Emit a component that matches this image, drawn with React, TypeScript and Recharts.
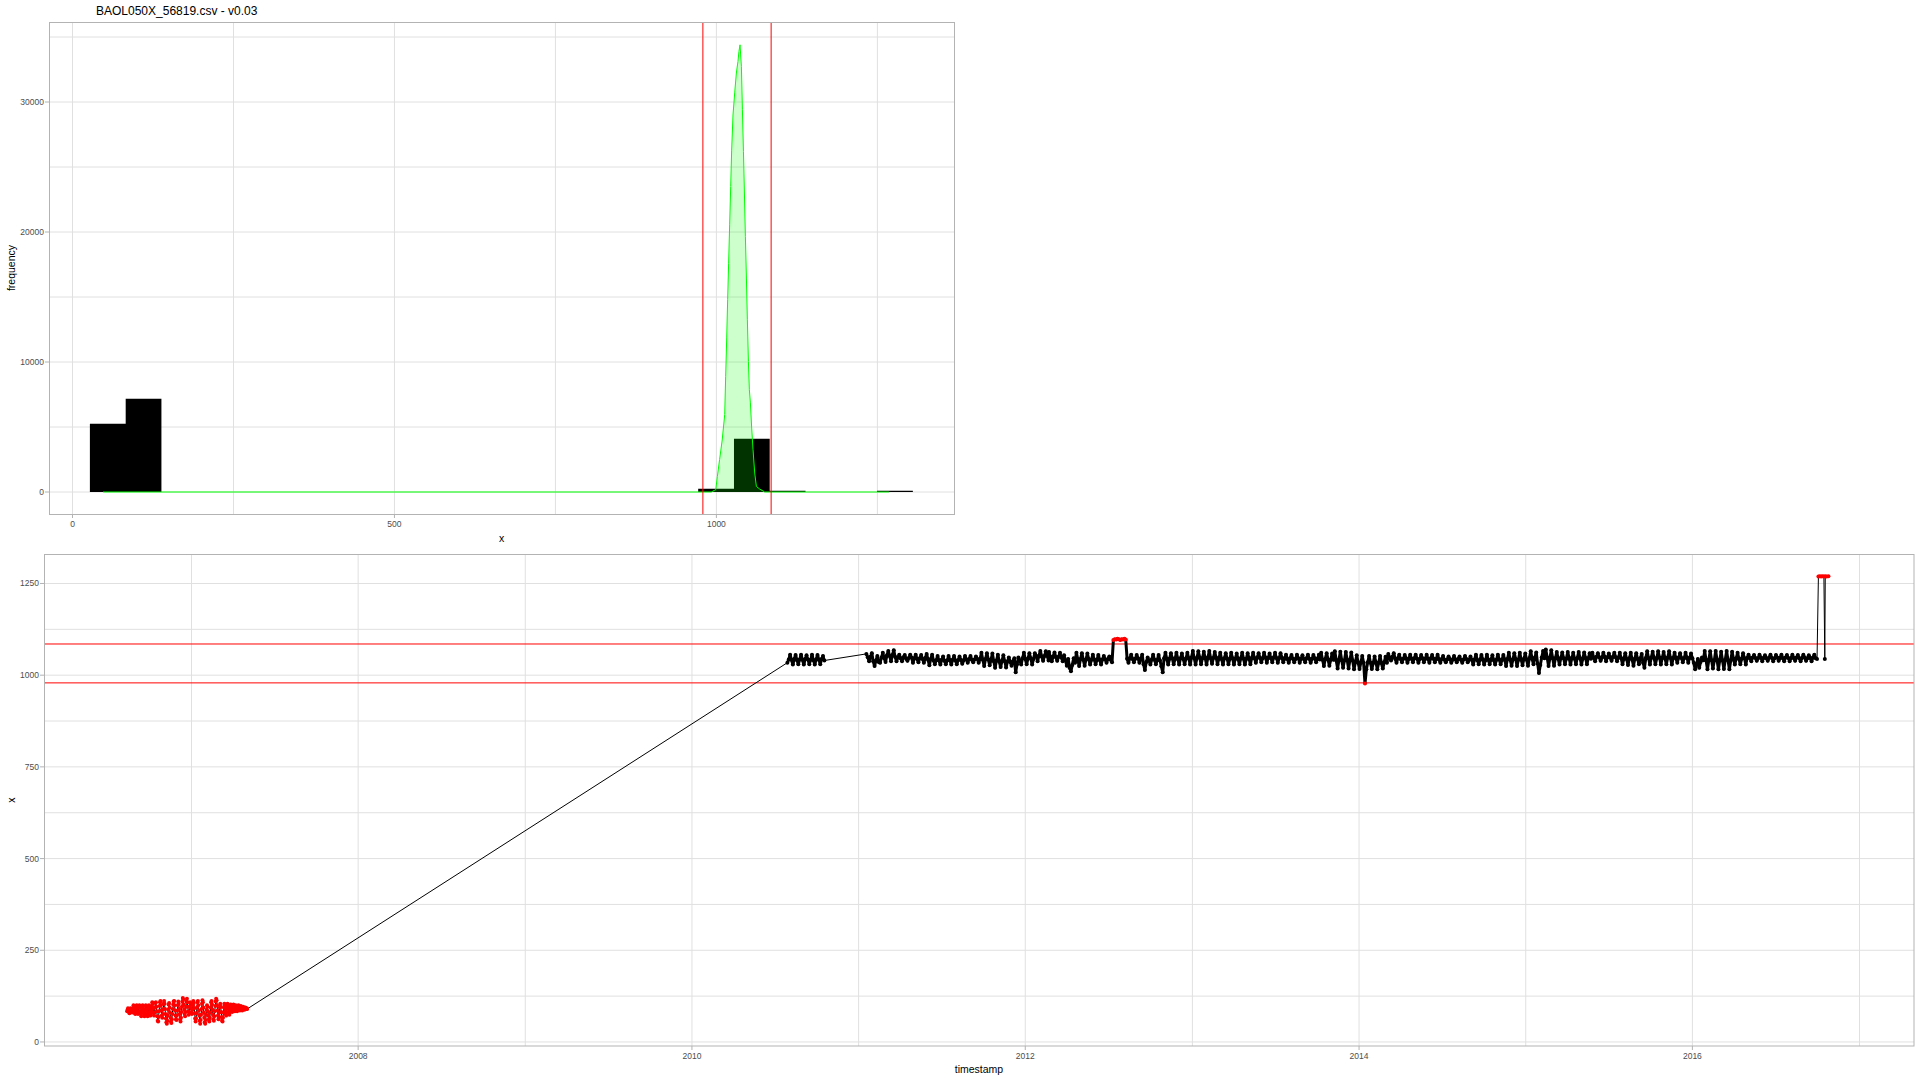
import {
  ComposedChart,
  Area,
  Line,
  XAxis,
  YAxis,
  CartesianGrid,
  ReferenceLine,
} from "recharts";

// ---- top panel: histogram of x with a scaled density ----
const BIN_EDGES = [
  27.0, 82.6, 138.1, 193.7, 249.3, 304.9, 360.4, 416.0, 471.6, 527.1, 582.7, 638.3,
  693.8, 749.4, 805.0, 860.6, 916.1, 971.7, 1027.3, 1082.8, 1138.4, 1194.0, 1249.5, 1305.1,
];
const BIN_COUNTS = [
  5254, 7177, 0, 0, 0, 0, 0, 0, 0, 0, 0, 0, 0, 0, 0, 0, 0, 250, 4100, 100, 0, 0, 100, 0,
];

const DENSITY_X = [
  47.5, 992, 999, 1001.5, 1005, 1009, 1012.9, 1014.4, 1016, 1017.5, 1019, 1020.6, 1022.2,
  1023.7, 1025.8, 1028.4, 1031, 1033.5, 1035, 1036.7, 1038.8, 1040.4, 1042, 1043.5, 1045,
  1046.6, 1048.1, 1049.7, 1051.2, 1052.8, 1054.8, 1056.9, 1059.5, 1062.1, 1067.2, 1072.4,
  1075, 1268,
];
const DENSITY_Y = [
  0, 0, 180, 1200, 2500, 4000, 5950, 8900, 11850, 14800, 17600, 20550, 23500, 26300, 29000,
  30700, 32230, 33120, 33890, 34400, 32740, 29400, 26200, 23000, 19660, 16460, 13250, 10050,
  7870, 6850, 4920, 3250, 1460, 430, 230, 80, 0, 0,
];

const LOWER_LIMIT = 979;
const UPPER_LIMIT = 1085;

// ---- bottom panel: x over time ----
const RED_2006_START = "2006-08-13"; // daily
const RED_2006 = [
  84, 88, 92, 90, 84, 78, 80, 86, 92, 90, 84, 80,
  84, 92, 100, 98, 88, 78, 76, 86, 96, 100, 92, 82, 76, 84, 94, 100, 94, 84,
  76, 70, 80, 92, 100, 96, 86, 76, 70, 78, 90, 100, 98, 86, 74, 70, 80, 92, 100, 94, 82, 72, 74, 86,
  98, 108, 104, 92, 80, 72, 80, 94, 106, 108, 96, 84,
  70, 58, 56, 68, 84, 98,
  108, 112, 100, 86, 72, 66, 76, 90, 104, 112, 104, 90,
  76, 64, 54, 50, 58, 72, 88, 102, 106, 94, 80, 66, 56, 52, 62, 76, 90, 102,
  110, 112, 100, 86, 72, 62, 60, 72, 86, 100, 110, 104,
  90, 76, 62, 56, 66, 82,
  96, 110, 120, 116, 102, 88, 76, 70, 82, 96, 110, 118,
  108, 96, 84, 74, 82, 96, 108, 104, 92, 80, 76, 88,
  100, 112, 106, 92, 78, 64, 56, 64, 78, 94, 108, 112,
  100, 86, 72, 58, 50, 60, 74, 90, 104, 114, 108, 94,
  80, 66, 54, 50, 60, 74, 88, 100, 96, 84, 72, 62,
  56, 66, 80, 94, 108, 112, 102, 88, 74, 62, 58, 70,
  84, 98, 110, 118, 114, 100, 86, 72, 62, 66, 80, 94,
  104, 96, 82, 68, 58, 56, 66, 80, 94, 104, 100, 88,
  76, 72, 82, 94, 104, 100, 90, 80, 74, 82, 94, 102,
  96, 86, 82, 90, 100, 102, 94, 86, 84, 92, 100, 98, 90, 84, 88, 96, 100, 94,
  88, 86, 92, 98, 96, 90, 86, 90, 96, 94, 90, 88, 92, 94, 92, 90, 92, 90,
];

const CLUSTER_2010_START = "2010-07-29"; // every 3 days
const CLUSTER_2010 = [
  1034, 1043, 1056, 1042, 1029, 1044, 1055, 1041, 1030, 1043, 1056, 1042, 1029, 1044,
  1054, 1043, 1030, 1042, 1056, 1041, 1029, 1043, 1055, 1042, 1030, 1044, 1052, 1040,
];

const BAND_2011_START = "2011-01-18"; // every 3 days
const BAND_2011 = [
  1058, 1049, 1038, 1050, 1060, 1038, 1025, 1040, 1052, 1036, 1034, 1048, 1061, 1046, 1036,
  1054, 1066, 1052, 1038, 1055, 1068, 1050, 1038, 1048, 1056, 1046, 1038, 1049, 1055, 1045,
  1039, 1047, 1056, 1048, 1034, 1046, 1056, 1044, 1035, 1046, 1055, 1044, 1034, 1047, 1058,
  1042, 1027, 1044, 1056, 1040, 1030, 1041, 1052, 1040, 1029, 1042, 1051, 1039, 1030, 1040,
  1052, 1041, 1029, 1042, 1052, 1040, 1030, 1041, 1051, 1042, 1031, 1040, 1052, 1043, 1034,
  1044, 1052, 1042, 1035, 1043, 1051, 1044, 1034, 1044, 1061, 1042, 1025, 1044, 1060, 1043,
  1027, 1042, 1059, 1038, 1020, 1040, 1056, 1037, 1022, 1039, 1054, 1038, 1021, 1037, 1048,
  1036, 1026, 1038, 1046, 1008, 1030, 1048, 1040, 1029, 1046, 1061, 1044, 1030, 1045, 1060,
  1046, 1029, 1044, 1060, 1052, 1038, 1053, 1066, 1051, 1039, 1052, 1065, 1053, 1040,
];

const BAND_2012_START = "2012-02-22"; // every 3 days
const BAND_2012 = [
  1063, 1050, 1038, 1051, 1062, 1049, 1039, 1050, 1061, 1048, 1038, 1054, 1040, 1026, 1044,
  1020, 1011, 1028, 1046, 1034, 1061, 1043, 1025, 1044, 1060, 1042, 1026, 1043, 1059, 1044,
  1029, 1042, 1056, 1043, 1030, 1041, 1055, 1042, 1029, 1043, 1052, 1043, 1034, 1044, 1051,
  1042, 1035, 1096, 1098, 1097, 1099, 1098, 1096, 1098, 1097, 1099, 1097, 1045, 1034, 1046,
  1056, 1044, 1035, 1045, 1055, 1046, 1034, 1044, 1056, 1030, 1014, 1036, 1048, 1040, 1029,
  1043, 1056, 1042, 1030, 1041, 1055, 1040, 1024, 1008, 1046, 1061, 1044, 1029, 1045, 1060,
  1046, 1030, 1044, 1061, 1045, 1029, 1046, 1059, 1044, 1030, 1045, 1061, 1046, 1029, 1048,
  1066, 1046, 1029, 1047, 1065, 1048, 1030, 1046, 1064, 1047, 1029, 1048, 1066, 1046, 1031,
  1047, 1063, 1048, 1030, 1045, 1061, 1044, 1029, 1046, 1060, 1045, 1030, 1044, 1061, 1046,
  1029, 1045, 1059, 1044, 1030, 1046, 1061, 1045, 1029, 1044, 1060, 1046, 1030, 1047, 1061,
  1046, 1034, 1048, 1060, 1047, 1035, 1046, 1061, 1048, 1034, 1047, 1059, 1046, 1035, 1048,
  1061, 1047, 1034, 1046, 1060, 1048, 1035, 1045, 1056, 1044, 1034, 1046, 1055, 1045, 1035,
  1044, 1056, 1046, 1034, 1045, 1054, 1044, 1035, 1046, 1056, 1045, 1034, 1044, 1055, 1046,
  1035, 1045, 1056,
];

const BAND_2013_START = "2013-10-07"; // every 3 days
const BAND_2013 = [
  1043, 1061, 1042, 1025, 1044, 1060, 1043, 1026, 1042, 1059, 1042, 1065, 1040, 1018, 1042,
  1064, 1041, 1020, 1040, 1063, 1042, 1018, 1041, 1062, 1040, 1016, 1036, 1054, 1034, 1017,
  1035, 1052, 1034, 977, 1016, 1035, 1052, 1034, 1017, 1033, 1051, 1035, 1016, 1034, 1052,
  1033, 1018, 1035, 1050, 1034, 1058, 1048, 1040, 1050, 1060, 1045, 1034, 1046, 1056, 1044,
  1035, 1045, 1055, 1046, 1034, 1044, 1056, 1045, 1035, 1046, 1056, 1045, 1034, 1044, 1055,
  1046, 1035, 1045, 1056, 1044, 1034, 1046, 1055, 1045, 1035, 1044, 1056, 1043, 1034, 1044,
  1052, 1042, 1035, 1043, 1051, 1044, 1034, 1042, 1052, 1043, 1035, 1044, 1051, 1042, 1034,
  1043, 1052, 1044, 1035, 1042, 1051, 1042, 1029, 1043, 1056, 1041, 1030, 1042, 1055, 1043,
  1029, 1041, 1056, 1042, 1030, 1043, 1054, 1041, 1029, 1042, 1056, 1043, 1030, 1041, 1055,
  1043, 1025, 1044, 1061, 1042, 1026, 1043, 1060, 1044, 1025, 1042, 1061, 1043, 1027, 1044,
  1059, 1042, 1026, 1046, 1065, 1044, 1030, 1048, 1062, 1032, 1006, 1028, 1048, 1066, 1046,
  1070, 1048, 1025, 1047, 1068, 1046, 1026, 1046, 1063, 1045, 1029, 1047, 1062, 1046, 1030,
  1045, 1063, 1047, 1029, 1046, 1061, 1045, 1030, 1047, 1063, 1046, 1029, 1045, 1062, 1047,
  1030, 1046, 1060, 1045,
];

const BAND_2015_START = "2015-05-24"; // every 3 days
const BAND_2015 = [
  1049, 1061, 1048, 1038, 1050, 1060, 1049, 1039, 1048, 1061, 1050, 1038, 1049, 1059, 1048,
  1039, 1050, 1061, 1049, 1038, 1048, 1061, 1046, 1030, 1045, 1060, 1044, 1028, 1046, 1061,
  1043, 1026, 1045, 1060, 1044, 1030, 1046, 1058, 1034, 1020, 1047, 1065, 1046, 1029, 1048,
  1064, 1047, 1030, 1046, 1065, 1048, 1029, 1047, 1063, 1046, 1030, 1048, 1065, 1047, 1029,
  1047, 1061, 1046, 1034, 1048, 1060, 1047, 1035, 1046, 1061, 1048, 1034, 1047, 1059, 1046,
  1034, 1016, 1030, 1044, 1020, 1036, 1048, 1041, 1066, 1040, 1016, 1042, 1065, 1041, 1018,
  1040, 1066, 1042, 1016, 1041, 1064, 1040, 1017, 1042, 1066, 1041, 1016, 1040, 1064, 1045,
  1029, 1046, 1061, 1044, 1030, 1045, 1060, 1046, 1029, 1047, 1056, 1046, 1038, 1048, 1055,
  1047, 1039, 1046, 1056, 1048, 1038, 1047, 1054, 1046, 1039, 1048, 1056, 1047, 1038, 1046,
  1055, 1048, 1039, 1047, 1056, 1046, 1038, 1048, 1055, 1047, 1038, 1046, 1056, 1047, 1039,
  1048, 1055, 1046, 1038, 1047, 1056, 1048, 1039, 1046, 1054, 1047, 1038, 1048, 1056, 1046,
  1044,
];

const SPIKE_2016_DATES = [
  "2016-10-03", "2016-10-06", "2016-10-09", "2016-10-12", "2016-10-15", "2016-10-17",
  "2016-10-18", "2016-10-21", "2016-10-25",
];
const SPIKE_2016_VALUES = [1269, 1270, 1269, 1270, 1269, 1044, 1270, 1269, 1270];

const YEAR_TICKS = [2008, 2010, 2012, 2014, 2016];
const YEAR_GRID = [2007, 2008, 2009, 2010, 2011, 2012, 2013, 2014, 2015, 2016, 2017];

const FONT = "'Liberation Sans', Arial, Helvetica, sans-serif";
const GRID = "#e0e0e0";
const BORDER = "#b3b3b3";
const TICK_TEXT = { fill: "#4d4d4d", fontSize: 8.5, fontFamily: FONT };

const DAY = 86400000;
const seq = (start: string, stepDays: number, values: number[]) => {
  const t0 = Date.parse(start);
  return values.map((v, i) => ({ t: t0 + i * stepDays * DAY, v: v as number | null }));
};
const yearMs = (y: number) => Date.UTC(y, 0, 1);

const histData = BIN_EDGES.map((x, i) => ({ x, count: BIN_COUNTS[i] }));
const densityData = DENSITY_X.map((x, i) => ({ x, density: DENSITY_Y[i] }));

const redPart = seq(RED_2006_START, 1, RED_2006);
const clusterPart = seq(CLUSTER_2010_START, 3, CLUSTER_2010);
const bandPart = [
  ...seq(BAND_2011_START, 3, BAND_2011),
  ...seq(BAND_2012_START, 3, BAND_2012),
  ...seq(BAND_2013_START, 3, BAND_2013),
  ...seq(BAND_2015_START, 3, BAND_2015),
];
const spikePart = SPIKE_2016_DATES.map((d, i) => ({
  t: Date.parse(d),
  v: SPIKE_2016_VALUES[i] as number | null,
}));

// all readings in time order (line + points)
const seriesData = [...redPart, ...clusterPart, ...bandPart, ...spikePart];
// the dense stretches, drawn heavier so they read as one solid ribbon like the original
const denseData = [...clusterPart, { t: Date.parse("2010-12-01"), v: null }, ...bandPart];

const renderDot = (props: any) => {
  const { cx, cy, payload, index } = props;
  if (cx == null || cy == null || payload.v == null) return <g key={`n${index}`} />;
  const out = payload.v > UPPER_LIMIT || payload.v < LOWER_LIMIT;
  return (
    <circle key={`d${index}`} cx={cx} cy={cy} r={2} fill={out ? "#ff0000" : "#000000"} stroke="none" />
  );
};

export default function App() {
  return (
    <div
      style={{
        position: "absolute",
        left: 0,
        top: 0,
        width: 1920,
        height: 1080,
        background: "#ffffff",
        fontFamily: FONT,
      }}
    >
      <div style={{ position: "absolute", left: 0, top: 0 }}>
        <ComposedChart width={960} height={545} margin={{ top: 22, right: 6, bottom: 0, left: 0 }}>
          <CartesianGrid
            stroke={GRID}
            strokeWidth={1}
            horizontalValues={[0, 5000, 10000, 15000, 20000, 25000, 30000, 35000]}
            verticalValues={[0, 250, 500, 750, 1000, 1250]}
          />
          <XAxis
            type="number"
            dataKey="x"
            domain={[-36.5, 1369]}
            allowDataOverflow
            ticks={[0, 500, 1000]}
            interval={0}
            height={31}
            axisLine={false}
            tickSize={4}
            tickMargin={3}
            tickLine={{ stroke: BORDER }}
            tick={TICK_TEXT}
          />
          <YAxis
            type="number"
            domain={[-1692, 36154]}
            allowDataOverflow
            ticks={[0, 10000, 20000, 30000]}
            interval={0}
            width={49}
            axisLine={false}
            tickSize={4}
            tickMargin={1}
            tickLine={{ stroke: BORDER }}
            tick={TICK_TEXT}
          />
          <Area
            data={histData}
            dataKey="count"
            type="stepAfter"
            baseValue={0}
            fill="#000000"
            fillOpacity={1}
            stroke="none"
            isAnimationActive={false}
          />
          <Area
            data={densityData}
            dataKey="density"
            type="linear"
            baseValue={0}
            fill="#00ff00"
            fillOpacity={0.2}
            stroke="#00ff00"
            strokeWidth={1}
            isAnimationActive={false}
          />
          <ReferenceLine x={LOWER_LIMIT} stroke="#ff0000" strokeWidth={1} />
          <ReferenceLine x={UPPER_LIMIT} stroke="#ff0000" strokeWidth={1} />
        </ComposedChart>
      </div>

      <div style={{ position: "absolute", left: 0, top: 540 }}>
        <ComposedChart
          width={1920}
          height={540}
          data={seriesData}
          margin={{ top: 14.5, right: 6, bottom: 0, left: 0 }}
        >
          <CartesianGrid
            stroke={GRID}
            strokeWidth={1}
            horizontalValues={[0, 125, 250, 375, 500, 625, 750, 875, 1000, 1125, 1250]}
            verticalValues={YEAR_GRID.map(yearMs)}
          />
          <XAxis
            type="number"
            dataKey="t"
            domain={[Date.UTC(2006, 1, 12), Date.UTC(2017, 3, 30, 8)]}
            allowDataOverflow
            ticks={YEAR_TICKS.map(yearMs)}
            interval={0}
            tickFormatter={(t: number) => String(new Date(t).getUTCFullYear())}
            height={34}
            axisLine={false}
            tickSize={4}
            tickMargin={3}
            tickLine={{ stroke: BORDER }}
            tick={TICK_TEXT}
          />
          <YAxis
            type="number"
            domain={[-11, 1329]}
            allowDataOverflow
            ticks={[0, 250, 500, 750, 1000, 1250]}
            interval={0}
            width={44}
            axisLine={false}
            tickSize={4}
            tickMargin={1}
            tickLine={{ stroke: BORDER }}
            tick={TICK_TEXT}
          />
          <ReferenceLine y={UPPER_LIMIT} stroke="#ff0000" strokeWidth={1} />
          <ReferenceLine y={LOWER_LIMIT} stroke="#ff0000" strokeWidth={1} />
          <Line
            data={denseData}
            dataKey="v"
            type="linear"
            stroke="#000000"
            strokeWidth={3}
            strokeLinejoin="round"
            dot={false}
            activeDot={false}
            legendType="none"
            isAnimationActive={false}
          />
          <Line
            dataKey="v"
            type="linear"
            stroke="#000000"
            strokeWidth={1}
            dot={renderDot}
            activeDot={false}
            isAnimationActive={false}
          />
        </ComposedChart>
      </div>

      <svg
        width={1920}
        height={1080}
        style={{ position: "absolute", left: 0, top: 0, pointerEvents: "none" }}
        fontFamily={FONT}
      >
        <rect x={49.5} y={22.5} width={905} height={492} fill="none" stroke={BORDER} strokeWidth={1} />
        <rect x={44.5} y={554.5} width={1869.5} height={491.5} fill="none" stroke={BORDER} strokeWidth={1} />
        <text x={96} y={14.5} fontSize={12} fill="#000000">
          BAOL050X_56819.csv - v0.03
        </text>
        <text x={501.5} y={542} fontSize={10.5} fill="#000000" textAnchor="middle">
          x
        </text>
        <text
          x={15}
          y={268}
          fontSize={10.5}
          fill="#000000"
          textAnchor="middle"
          transform="rotate(-90 15 268)"
        >
          frequency
        </text>
        <text x={979} y={1072.5} fontSize={10.5} fill="#000000" textAnchor="middle">
          timestamp
        </text>
        <text x={15} y={800} fontSize={10.5} fill="#000000" textAnchor="middle" transform="rotate(-90 15 800)">
          x
        </text>
      </svg>
    </div>
  );
}
